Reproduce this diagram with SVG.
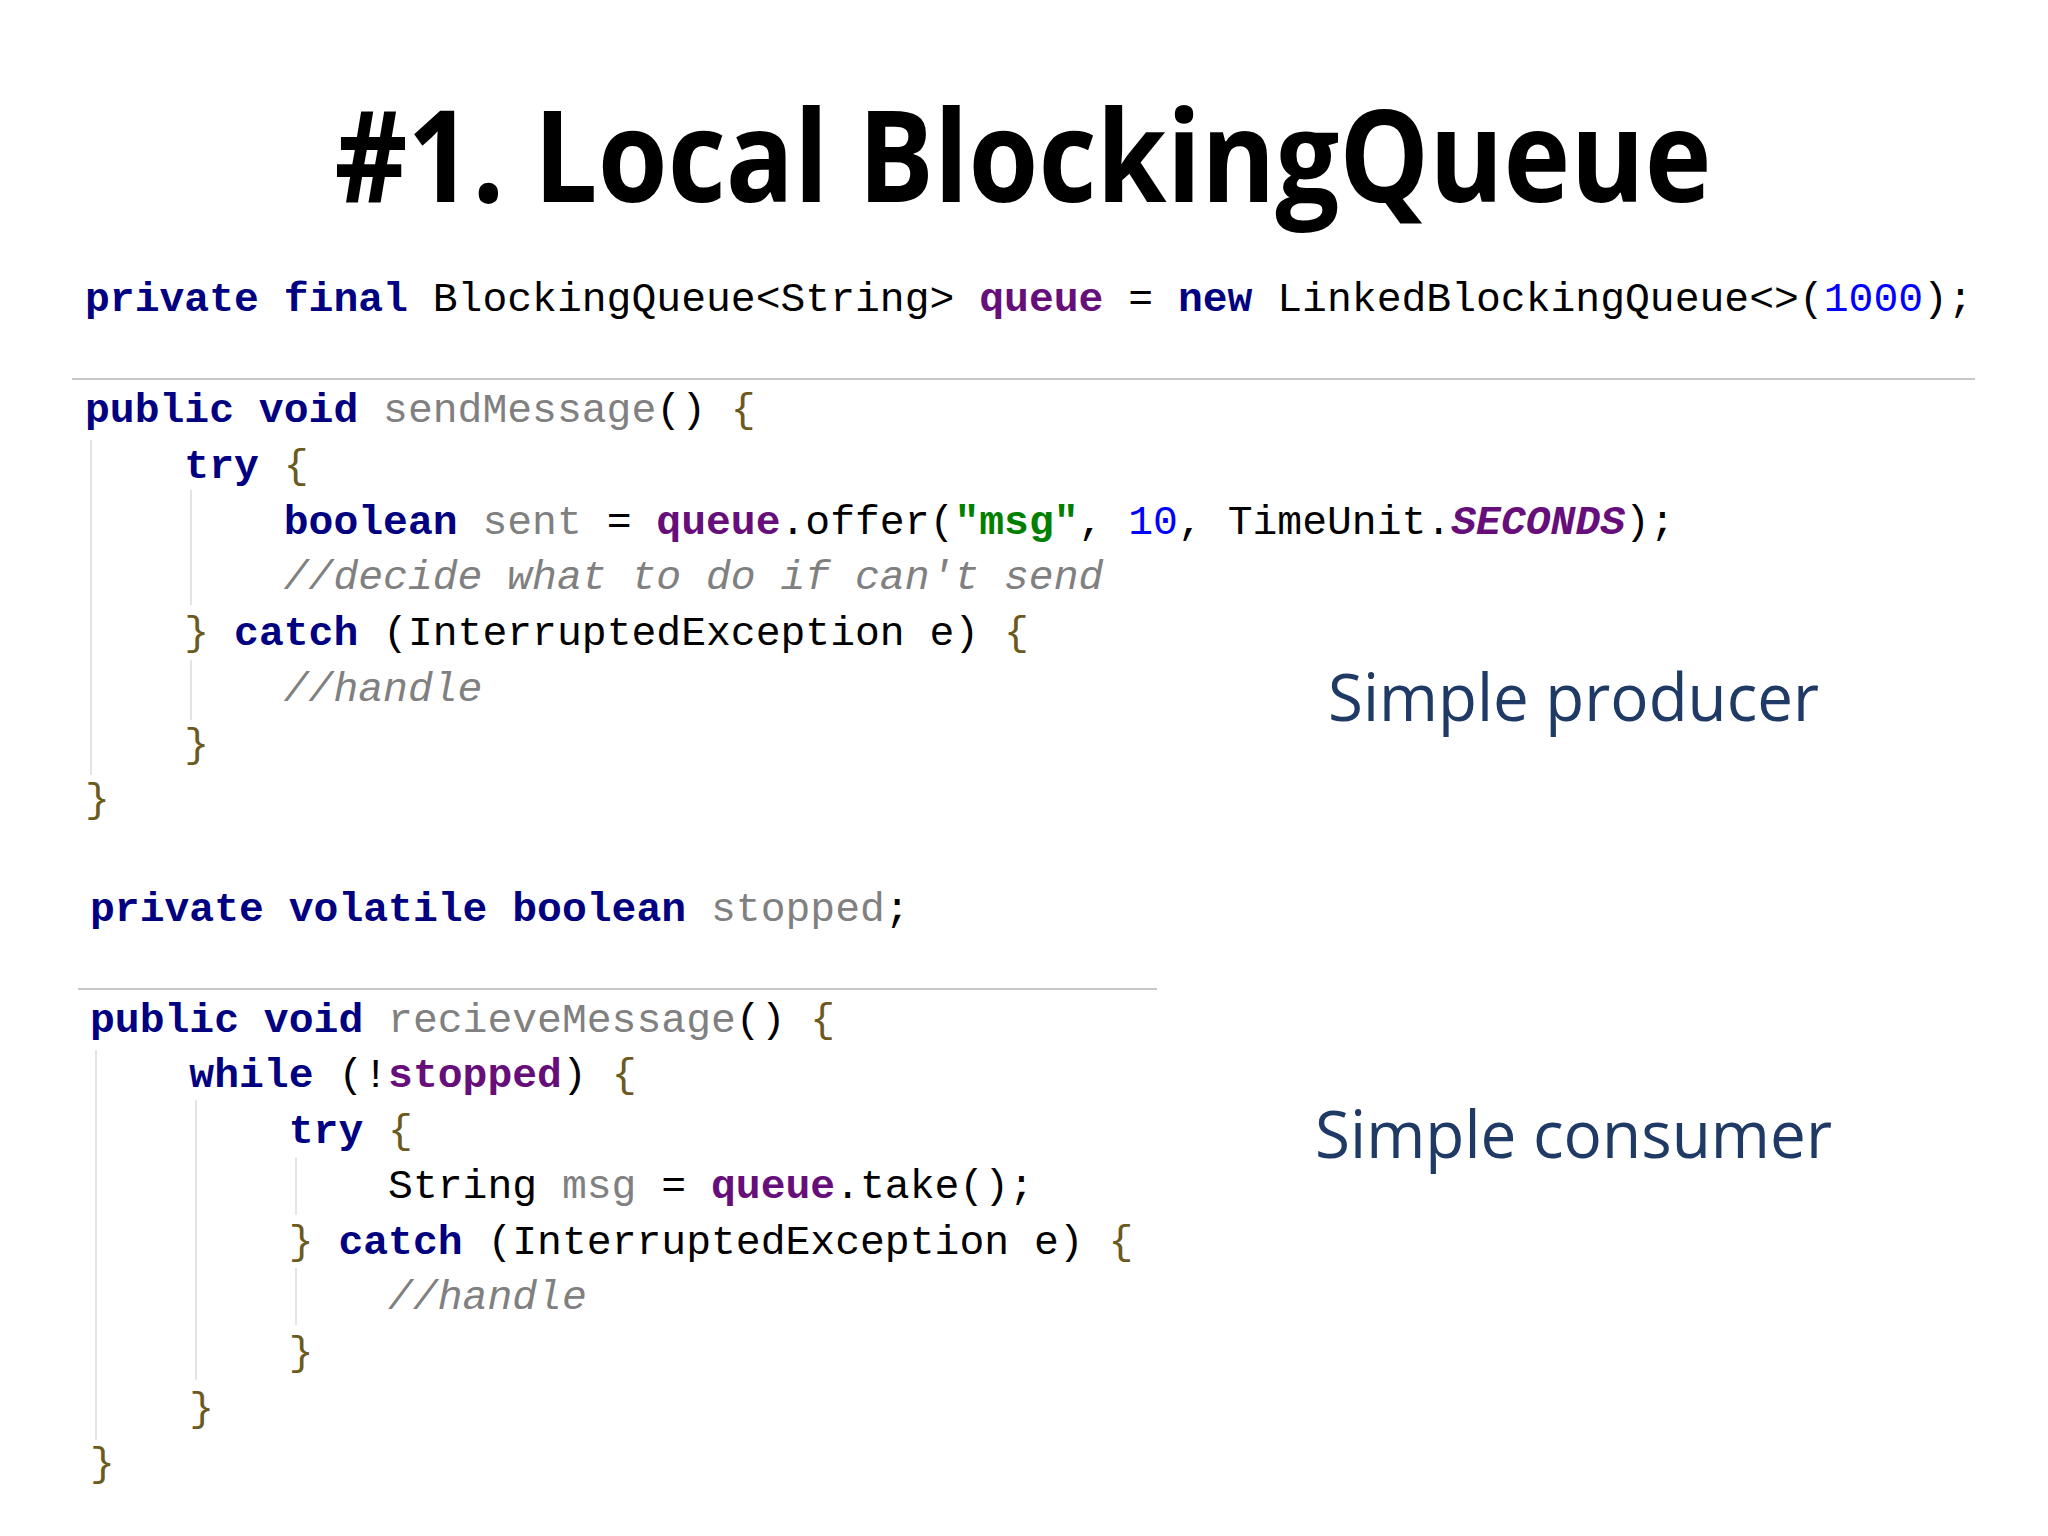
<svg xmlns="http://www.w3.org/2000/svg" width="2048" height="1536" viewBox="0 0 2048 1536">
<style>
.c{font-family:"Liberation Mono","DejaVu Sans Mono",monospace;font-size:41.4px;fill:#000;white-space:pre}
.k{fill:#000080;font-weight:bold}
.f{fill:#660e7a;font-weight:bold}
.g{fill:#808080}
.cm{fill:#808080;font-style:italic}
.s{fill:#008000;font-weight:bold}
.n{fill:#0000ff}
.b{fill:#6b5a1e}
.sc{fill:#660e7a;font-weight:bold;font-style:italic}
.lab{font-family:"Open Sans","Noto Sans",sans-serif;font-size:66px;fill:#1f3a64}
.guide{stroke:#e4e4e4;stroke-width:2}
.sep{stroke:#c8c8c8;stroke-width:2}
</style>
<rect width="2048" height="1536" fill="#fff"/>
<g id="title"><text x="1023" y="202" text-anchor="middle" font-family="Open Sans, Noto Sans, sans-serif" font-weight="bold" font-size="128" textLength="1377" lengthAdjust="spacingAndGlyphs" fill="#000">#1. Local BlockingQueue</text></g>
<g id="code" xml:space="preserve">
<text class="c" x="85" y="311"><tspan class="k">private final</tspan> BlockingQueue&lt;String&gt; <tspan class="f">queue</tspan> = <tspan class="k">new</tspan> LinkedBlockingQueue&lt;&gt;(<tspan class="n">1000</tspan>);</text>
<line class="sep" x1="72" y1="379" x2="1975" y2="379"/>
<text class="c" x="85" y="422"><tspan class="k">public void</tspan> <tspan class="g">sendMessage</tspan>() <tspan class="b">{</tspan></text>
<text class="c" x="85" y="478">    <tspan class="k">try</tspan> <tspan class="b">{</tspan></text>
<text class="c" x="85" y="534">        <tspan class="k">boolean</tspan> <tspan class="g">sent</tspan> = <tspan class="f">queue</tspan>.offer(<tspan class="s">"msg"</tspan>, <tspan class="n">10</tspan>, TimeUnit.<tspan class="sc">SECONDS</tspan>);</text>
<text class="c" x="85" y="589">        <tspan class="cm">//decide what to do if can't send</tspan></text>
<text class="c" x="85" y="645">    <tspan class="b">}</tspan> <tspan class="k">catch</tspan> (InterruptedException e) <tspan class="b">{</tspan></text>
<text class="c" x="85" y="701">        <tspan class="cm">//handle</tspan></text>
<text class="c" x="85" y="757">    <tspan class="b">}</tspan></text>
<text class="c" x="85" y="812"><tspan class="b">}</tspan></text>
<text class="c" x="90" y="921"><tspan class="k">private volatile boolean</tspan> <tspan class="g">stopped</tspan>;</text>
<line class="sep" x1="78" y1="989" x2="1157" y2="989"/>
<text class="c" x="90" y="1032"><tspan class="k">public void</tspan> <tspan class="g">recieveMessage</tspan>() <tspan class="b">{</tspan></text>
<text class="c" x="90" y="1087">    <tspan class="k">while</tspan> (!<tspan class="f">stopped</tspan>) <tspan class="b">{</tspan></text>
<text class="c" x="90" y="1143">        <tspan class="k">try</tspan> <tspan class="b">{</tspan></text>
<text class="c" x="90" y="1198">            String <tspan class="g">msg</tspan> = <tspan class="f">queue</tspan>.take();</text>
<text class="c" x="90" y="1254">        <tspan class="b">}</tspan> <tspan class="k">catch</tspan> (InterruptedException e) <tspan class="b">{</tspan></text>
<text class="c" x="90" y="1309">            <tspan class="cm">//handle</tspan></text>
<text class="c" x="90" y="1365">        <tspan class="b">}</tspan></text>
<text class="c" x="90" y="1421">    <tspan class="b">}</tspan></text>
<text class="c" x="90" y="1476"><tspan class="b">}</tspan></text>
</g>
<g id="guides">
<line class="guide" x1="91" y1="440" x2="91" y2="775"/>
<line class="guide" x1="191" y1="490" x2="191" y2="605"/>
<line class="guide" x1="191" y1="660" x2="191" y2="720"/>
<line class="guide" x1="96" y1="1050" x2="96" y2="1440"/>
<line class="guide" x1="196" y1="1100" x2="196" y2="1380"/>
<line class="guide" x1="296" y1="1158" x2="296" y2="1215"/>
<line class="guide" x1="296" y1="1268" x2="296" y2="1325"/>
</g>
<g id="labels">
<text class="lab" x="1328" y="721" textLength="491" lengthAdjust="spacingAndGlyphs">Simple producer</text>
<text class="lab" x="1315" y="1158" textLength="517" lengthAdjust="spacingAndGlyphs">Simple consumer</text>
</g>
</svg>
